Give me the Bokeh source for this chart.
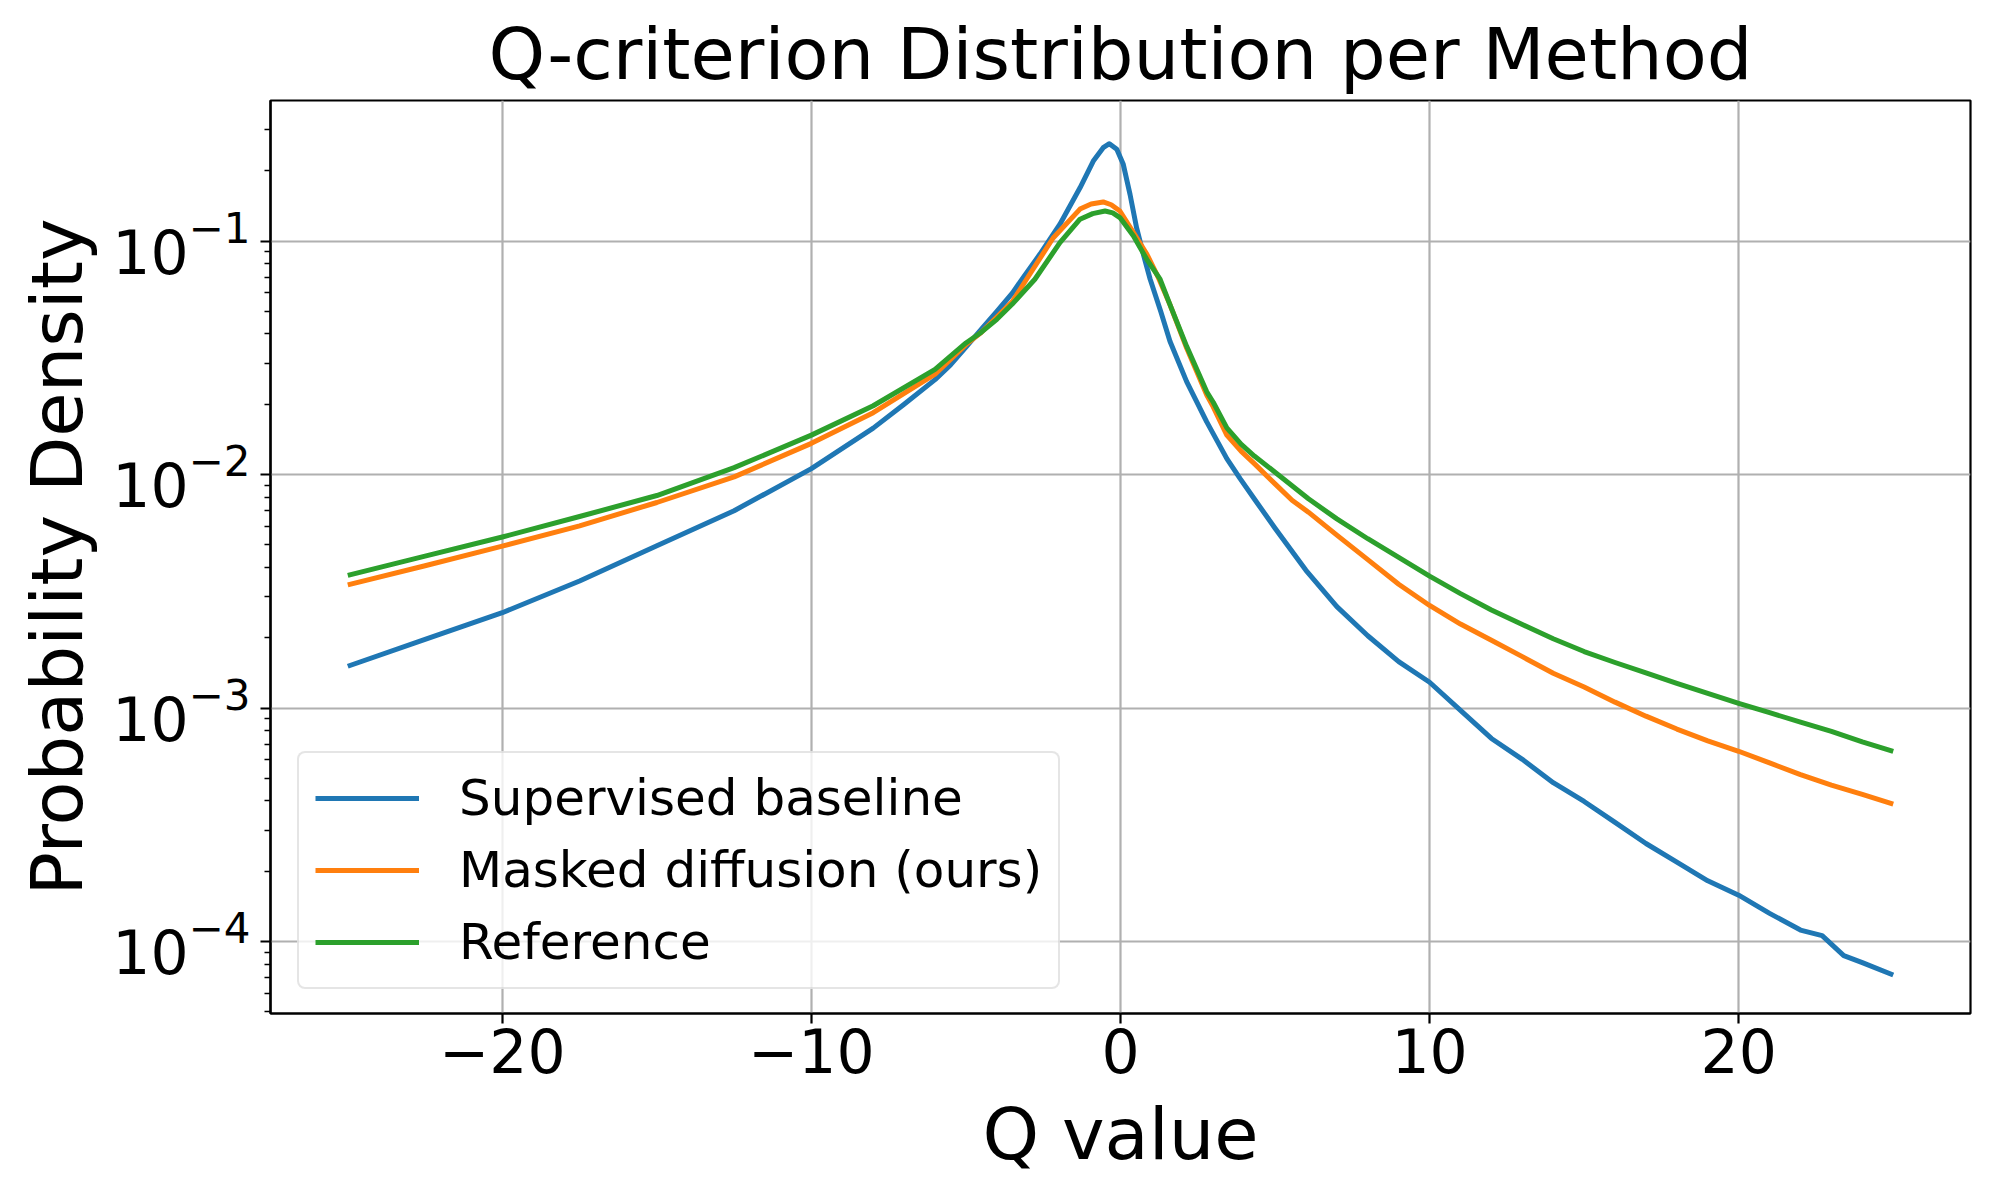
from bokeh.plotting import figure
from bokeh.models import FixedTicker, Legend, LegendItem, Range1d
from bokeh.embed import file_html
from bokeh.resources import INLINE

TITLE = "Q-criterion Distribution per Method"
X_LABEL = "Q value"
Y_LABEL = "Probability Density"
SERIES_NAMES = ["Supervised baseline", "Masked diffusion (ours)", "Reference"]
COLORS = ["#1f77b4", "#ff7f0e", "#2ca02c"]

# Supervised baseline
x_supervised = [-25, -22.5, -20, -17.5, -15, -12.5, -10, -8, -7, -6, -5.5, -5, -4.5, -4,
                -3.5, -3.15, -2.61, -1.96, -1.31, -0.88, -0.56, -0.36, -0.12, 0.09, 0.31,
                0.52, 0.74, 0.96, 1.3, 1.6, 2.14, 2.79, 3.44, 3.87, 4.36, 5, 6, 7, 8, 9,
                10, 11, 12, 13, 14, 15, 16, 17, 18, 19, 20, 21, 22, 22.7, 23.4, 24, 25]
y_supervised = [1.51e-3, 1.97e-3, 2.56e-3, 3.5e-3, 4.95e-3, 7.0e-3, 1.06e-2, 1.58e-2, 2.0e-2,
                2.55e-2, 2.95e-2, 3.51e-2, 4.19e-2, 5.0e-2, 5.98e-2, 6.97e-2, 8.77e-2, 0.118,
                0.169, 0.22, 0.251, 0.261, 0.247, 0.213, 0.158, 0.114, 0.0877, 0.0686, 0.05,
                0.0372, 0.025, 0.0168, 0.0117, 0.0096, 0.00776, 0.00589, 0.00389, 0.00272,
                0.00204, 0.00158, 0.00129, 0.000977, 0.000741, 0.000603, 0.000479, 0.000398,
                0.000324, 0.000263, 0.000219, 0.000182, 0.000158, 0.000132, 0.000112,
                0.000106, 0.0000871, 0.0000813, 0.0000719]

# Masked diffusion (ours)
x_masked = [-25, -22.5, -20, -17.5, -15, -12.5, -10, -8, -6, -5, -4.5, -4, -3.5, -3.04,
            -2.18, -1.31, -0.95, -0.56, -0.3, -0.02, 0.42, 0.85, 1.23, 1.6, 2.14, 2.79,
            3.0, 3.44, 3.9, 4.33, 5, 5.55, 6.08, 7, 8, 9, 10, 11, 12, 13, 14, 15, 16, 17,
            18, 19, 20, 21, 22, 23, 24, 25]
y_masked = [3.37e-3, 4.07e-3, 4.94e-3, 6.03e-3, 7.59e-3, 9.77e-3, 1.36e-2, 1.84e-2, 2.69e-2,
            3.6e-2, 4.07e-2, 4.73e-2, 5.5e-2, 6.86e-2, 0.103, 0.137, 0.144, 0.147, 0.143,
            0.1345, 0.1086, 0.088, 0.0695, 0.0534, 0.0348, 0.0219, 0.0195, 0.01475, 0.0126,
            0.01114, 0.00912, 0.00776, 0.0069, 0.0055, 0.00432, 0.00339, 0.00275, 0.00229,
            0.00195, 0.00166, 0.00141, 0.00123, 0.00106, 0.000923, 0.000813, 0.000724,
            0.000653, 0.000582, 0.000519, 0.000468, 0.000427, 0.000388]

# Reference
x_reference = [-25, -22.5, -20, -17.5, -15, -12.5, -10, -8, -6, -5, -4.5, -4, -3.5, -2.77,
               -1.96, -1.31, -0.9, -0.5, -0.25, -0.02, 0.42, 0.85, 1.28, 1.6, 2.14, 2.79,
               3.0, 3.44, 3.9, 4.33, 5, 6.08, 7, 8, 9, 10, 11, 12, 13, 14, 15, 16, 17, 18,
               19, 20, 21, 22, 23, 24, 25]
y_reference = [3.70e-3, 4.47e-3, 5.40e-3, 6.61e-3, 8.13e-3, 1.07e-2, 1.475e-2, 1.97e-2, 2.82e-2,
               3.66e-2, 4.07e-2, 4.62e-2, 5.37e-2, 6.86e-2, 0.0984, 0.124, 0.131, 0.1345,
               0.132, 0.126, 0.105, 0.0835, 0.0686, 0.0534, 0.0354, 0.0226, 0.0204, 0.01585,
               0.01349, 0.0120, 0.01023, 0.00787, 0.00646, 0.00531, 0.00442, 0.00367,
               0.00309, 0.00263, 0.00228, 0.00198, 0.001746, 0.001567, 0.001413, 0.001274,
               0.001156, 0.001047, 0.000955, 0.000871, 0.000794, 0.000716, 0.000652]

x_ticks = [-20, -10, 0, 10, 20]
x_tick_labels = ["\u221220", "\u221210", "0", "10", "20"]
y_ticks = [1e-4, 1e-3, 1e-2, 1e-1]
y_minor_ticks = [m * 10.0 ** e for e in range(-5, 0) for m in range(2, 10)]

FONT = "DejaVu Sans"

p = figure(width=1984, height=1184, y_axis_type="log",
           x_range=Range1d(-27.5, 27.5), y_range=Range1d(4.92e-5, 0.3997),
           output_backend="svg", toolbar_location=None,
           min_border_left=270, min_border_right=14, min_border_top=100, min_border_bottom=171)
p.frame_width = 1700
p.frame_height = 913

p.title.text = TITLE
p.title.text_font = FONT
p.title.text_font_size = "72px"
p.title.text_font_style = "normal"
p.title.text_color = "black"
p.title.align = "center"
p.title.standoff = 10

series = [(x_supervised, y_supervised), (x_masked, y_masked), (x_reference, y_reference)]
renderers = []
for (xs, ys), c in zip(series, COLORS):
    r = p.line(xs, ys, line_color=c, line_width=5, line_join="round")
    renderers.append(r)

p.xaxis.ticker = FixedTicker(ticks=x_ticks)
p.xaxis.major_label_overrides = {t: l for t, l in zip(x_ticks, x_tick_labels)}
p.yaxis.ticker = FixedTicker(ticks=y_ticks, minor_ticks=y_minor_ticks)
p.xaxis.minor_tick_line_color = None

for ax in (p.xaxis, p.yaxis):
    ax.axis_line_color = "black"
    ax.axis_line_width = 2.2
    ax.major_tick_line_color = "black"
    ax.major_tick_line_width = 2.2
    ax.major_tick_out = 10
    ax.major_tick_in = 0
    ax.minor_tick_line_width = 1.7
    ax.minor_tick_out = 6
    ax.minor_tick_in = 0
    ax.major_label_text_font = FONT
    ax.major_label_text_font_size = "60px"
    ax.major_label_text_color = "black"
    ax.axis_label_text_font = FONT
    ax.axis_label_text_font_size = "72px"
    ax.axis_label_text_font_style = "normal"
    ax.axis_label_text_color = "black"
p.yaxis.minor_tick_line_color = "black"
p.xaxis.major_label_standoff = 4
p.yaxis.major_label_standoff = 10
p.xaxis.axis_label = X_LABEL
p.yaxis.axis_label = Y_LABEL
p.xaxis.axis_label_standoff = 16
p.yaxis.axis_label_standoff = 10

p.xgrid.ticker = FixedTicker(ticks=x_ticks)
p.ygrid.ticker = FixedTicker(ticks=y_ticks)
for g in (p.xgrid, p.ygrid):
    g.grid_line_color = "#b0b0b0"
    g.grid_line_width = 2.2

p.outline_line_color = "black"
p.outline_line_width = 2.2
p.background_fill_color = "white"
p.border_fill_color = "white"

legend = Legend(items=[LegendItem(label=n, renderers=[r]) for n, r in zip(SERIES_NAMES, renderers)],
                location=(27, 24))
legend.label_text_font = FONT
legend.label_text_font_size = "50px"
legend.label_text_color = "black"
legend.glyph_width = 104
legend.glyph_height = 50
legend.label_standoff = 40
legend.spacing = 14
legend.padding = 16
legend.margin = 0
legend.border_line_color = "#cccccc"
legend.border_line_width = 2
legend.background_fill_alpha = 0.8
try:
    legend.border_radius = 8
except Exception:
    pass
p.add_layout(legend, "center")

open("out.html", "w").write(file_html(p, INLINE))
